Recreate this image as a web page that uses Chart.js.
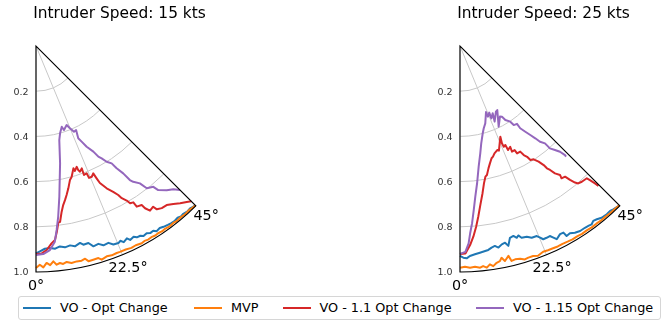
<!DOCTYPE html>
<html>
<head>
<meta charset="utf-8">
<script src="https://cdn.jsdelivr.net/npm/chart.js@4.4.1/dist/chart.umd.min.js"></script>
<style>
  html, body { margin: 0; padding: 0; background: #fff; }
  #wrap { position: relative; width: 672px; height: 322px; overflow: hidden; font-family: "DejaVu Sans", sans-serif; }
  #c { position: absolute; left: 0; top: 0; }
  #legend { position: absolute; left: 18px; top: 296px; width: 641px; height: 22px; border: 1px solid #d6d6d6; border-radius: 3px; background: #fff; }
  .lg-line { position: absolute; top: 10px; height: 2px; width: 28px; }
  .lg-text { position: absolute; top: 3px; font-size: 12.8px; line-height: 15px; color: #000; white-space: nowrap; }
</style>
</head>
<body>
<div id="wrap">
  <canvas id="c" width="672" height="322"></canvas>
  <div id="legend"></div>
</div>
<script>
// values: theta in degrees, r from 0 (apex) to 1 (outer arc)
const titles = ["Intruder Speed: 15 kts", "Intruder Speed: 25 kts"];
const seriesNames = ["VO - Opt Change", "MVP", "VO - 1.1 Opt Change", "VO - 1.15 Opt Change"];
const seriesColors = ["#1f77b4", "#ff7f0e", "#d62728", "#9467bd"];
const radialTicks = [0.2, 0.4, 0.6, 0.8, 1.0];
const thetaTicks = [0, 22.5, 45];

// 15 kts
const theta15Opt = [0,1.1,2.5,4.0,5.4,6.8,8.2,9.7,11.0,12.6,13.4,14.9,16.0,17.5,18.7,20.2,21.3,22.7,23.4,24.1,25.3,25.9,27.1,27.8,28.8,29.5,30.6,31.4,32.4,33.1,34.2,35.2,36.4,37.4,38.3,39.5,40.4,41.3,42.5,43.5,44.3,45];
const r15Opt = [0.918,0.909,0.898,0.896,0.901,0.893,0.900,0.895,0.903,0.893,0.904,0.902,0.922,0.918,0.931,0.928,0.943,0.945,0.939,0.951,0.941,0.954,0.948,0.957,0.958,0.966,0.962,0.970,0.968,0.978,0.974,0.979,0.983,0.986,0.988,0.985,0.990,0.988,0.992,0.990,0.995,0.997];

const theta15Mvp = [0,1.0,1.9,2.8,3.7,4.6,5.4,6.3,7.1,8.1,9.3,10.7,12.0,13.0,13.7,15.0,16.4,17.1,18.6,19.9,21.3,22.2,23.8,25.3,26.6,28.2,29.1,30.1,31.1,32.2,33.1,34.3,35.2,36.5,37.8,39.0,40.3,41.5,42.8,44.0,45];
const r15Mvp = [0.982,0.968,0.980,0.961,0.972,0.956,0.972,0.966,0.972,0.965,0.973,0.970,0.971,0.966,0.980,0.979,0.978,0.989,0.982,0.985,0.983,0.984,0.984,0.988,0.986,0.990,0.987,0.990,0.988,0.991,0.989,0.992,0.990,0.993,0.991,0.994,0.992,0.995,0.993,0.996,0.997];

const theta15Vo11 = [0,1.6,3.0,4.5,5.6,6.4,7.2,7.8,8.8,9.7,10.7,11.6,12.8,14.2,15.2,17.0,17.3,18.6,18.8,19.3,20.5,20.4,21.7,21.9,23.1,24.2,24.6,25.0,26.4,27.9,28.9,29.4,30.4,30.9,31.9,32.1,33.6,33.9,34.7,36.1,36.5,37.8,39.4,41.0,42.5,44.0,45];
const r15Vo11 = [0.920,0.918,0.904,0.876,0.862,0.827,0.788,0.785,0.742,0.714,0.693,0.673,0.646,0.612,0.601,0.566,0.579,0.564,0.580,0.589,0.578,0.609,0.606,0.629,0.629,0.618,0.644,0.669,0.703,0.730,0.753,0.773,0.793,0.811,0.815,0.839,0.845,0.865,0.886,0.880,0.899,0.908,0.911,0.926,0.944,0.960,0.972];

const theta15Vo115 = [0,2.0,3.9,5.5,6.4,7.4,8.8,11.6,13.9,15.4,17.7,18.4,21.2,22.4,23.9,25.5,24.6,25.5,26.7,28.5,29.4,30.3,31.4,32.8,33.4,34.4,35.0,35.6,37.1,37.9,39.8,40.3,42.2,43.8,45.0];
const r15Vo115 = [0.925,0.921,0.905,0.870,0.819,0.762,0.675,0.530,0.429,0.401,0.375,0.392,0.375,0.394,0.415,0.412,0.449,0.469,0.499,0.532,0.562,0.576,0.600,0.618,0.648,0.683,0.724,0.739,0.762,0.798,0.811,0.836,0.861,0.878,0.901];

// 25 kts
const theta25Opt = [0,0.9,1.8,2.7,4.1,5.5,7.0,7.9,8.9,9.9,10.8,11.9,12.9,13.6,14.6,15.7,16.5,17.1,17.8,19.3,20.5,22.0,22.7,23.3,24.3,25.3,26.0,26.6,28.0,29.0,29.3,30.4,31.6,33.0,34.5,35.5,36.4,37.3,38.3,39.5,41.1,42.3,43.2,44.7];
const r25Opt = [0.929,0.937,0.940,0.930,0.924,0.919,0.914,0.911,0.903,0.898,0.908,0.897,0.893,0.910,0.877,0.873,0.885,0.877,0.891,0.894,0.906,0.907,0.919,0.931,0.931,0.930,0.943,0.956,0.943,0.944,0.964,0.961,0.970,0.976,0.976,0.978,0.981,0.973,0.977,0.985,0.988,0.987,0.991,0.996];

const theta25Mvp = [0,1.3,2.6,3.9,5.2,6.0,6.9,7.8,8.6,9.6,10.5,11.1,11.8,13.0,13.5,14.5,15.8,16.9,17.9,19.2,20.4,22.0,23.3,24.7,26.0,27.4,28.8,30.2,31.6,33.0,34.5,36.0,37.5,39.0,40.5,42.0,43.5,45];
const r25Mvp = [0.981,0.977,0.982,0.979,0.985,0.979,0.988,0.975,0.985,0.973,0.968,0.955,0.972,0.953,0.978,0.975,0.978,0.987,0.984,0.984,0.990,0.982,0.984,0.985,0.987,0.986,0.988,0.990,0.989,0.991,0.990,0.992,0.991,0.993,0.992,0.994,0.995,0.997];

const theta25Vo11 = [0,1.5,2.9,4.0,5.1,6.1,7.3,8.7,9.9,11.0,11.8,13.1,14.3,15.7,16.6,17.8,18.8,19.8,20.4,24.0,23.3,23.5,24.6,24.8,26.5,26.2,27.7,28.0,29.7,30.3,31.2,31.7,33.0,34.2,35.1,35.4,36.0,36.7,37.8,37.5,38.8,39.4,40.1,40.7,41.9,43.8,44.1,44.5,44.7];
const r25Vo11 = [0.920,0.918,0.882,0.846,0.803,0.760,0.709,0.659,0.617,0.589,0.583,0.556,0.536,0.516,0.511,0.499,0.494,0.489,0.494,0.439,0.469,0.486,0.482,0.507,0.498,0.521,0.520,0.538,0.538,0.559,0.573,0.593,0.598,0.619,0.644,0.664,0.678,0.703,0.722,0.738,0.742,0.767,0.790,0.802,0.807,0.811,0.826,0.852,0.871];

const theta25Vo115 = [0,1.5,2.5,3.1,3.9,4.8,5.8,7.1,8.8,10.7,12.3,14.6,16.1,18.1,21.5,21.6,23.7,23.4,25.9,24.6,28.7,30.2,25.6,29.5,30.7,31.5,33.6,34.2,36.2,36.2,37.3,38.3,39.2,39.9,41.1,41.3,42.4,43.4,43.9,43.8];
const r25Vo115 = [0.920,0.911,0.874,0.830,0.786,0.728,0.670,0.612,0.540,0.483,0.441,0.399,0.379,0.360,0.314,0.336,0.322,0.349,0.331,0.368,0.331,0.328,0.396,0.359,0.364,0.384,0.402,0.423,0.427,0.451,0.477,0.502,0.527,0.552,0.572,0.603,0.623,0.644,0.670,0.678];

// layout: pixels per unit radius and the two apex positions
const U = 226;
const W = 672, H = 322;
const apexL = 36, apexR = 460, apexY = 46;

const deg = Math.PI / 180;
// theta = 0 points straight down, angles grow toward the right
const toXY = (th, r) => th.map((t, i) => ({ x: r[i] * Math.sin(t * deg), y: -r[i] * Math.cos(t * deg) }));

const panels = [
  { xAxis: "x",  title: titles[0], series: [[theta15Opt, r15Opt], [theta15Mvp, r15Mvp], [theta15Vo11, r15Vo11], [theta15Vo115, r15Vo115]] },
  { xAxis: "x2", title: titles[1], series: [[theta25Opt, r25Opt], [theta25Mvp, r25Mvp], [theta25Vo11, r25Vo11], [theta25Vo115, r25Vo115]] },
];

const datasets = [];
panels.forEach(p => {
  p.series.forEach((s, k) => {
    datasets.push({
      label: seriesNames[k],
      data: toXY(s[0], s[1]),
      xAxisID: p.xAxis,
      yAxisID: "y",
      showLine: true,
      borderColor: seriesColors[k],
      backgroundColor: seriesColors[k],
      borderWidth: 2,
      pointRadius: 0,
      tension: 0,
      borderJoinStyle: "round",
      order: 4 - k,   // later series on top, like matplotlib
    });
  });
});

const polarFrame = {
  id: "polarFrame",
  beforeDatasetsDraw(chart) {
    const ctx = chart.ctx;
    panels.forEach(p => {
      const xs = chart.scales[p.xAxis], ys = chart.scales.y;
      const ox = xs.getPixelForValue(0), oy = ys.getPixelForValue(0);
      const R = xs.getPixelForValue(1) - ox;
      ctx.save();
      ctx.strokeStyle = "#c8c8c8";
      ctx.lineWidth = 1;
      radialTicks.filter(v => v < 1).forEach(v => {
        ctx.beginPath();
        ctx.arc(ox, oy, v * R, Math.PI / 2 - 45 * deg, Math.PI / 2);
        ctx.stroke();
      });
      thetaTicks.forEach(t => {
        ctx.beginPath();
        ctx.moveTo(ox, oy);
        ctx.lineTo(ox + R * Math.sin(t * deg), oy + R * Math.cos(t * deg));
        ctx.stroke();
      });
      ctx.restore();
    });
  },
  afterDatasetsDraw(chart) {
    const ctx = chart.ctx;
    panels.forEach(p => {
      const xs = chart.scales[p.xAxis], ys = chart.scales.y;
      const ox = xs.getPixelForValue(0), oy = ys.getPixelForValue(0);
      const R = xs.getPixelForValue(1) - ox;
      ctx.save();
      // spines
      ctx.strokeStyle = "#000";
      ctx.lineWidth = 1.1;
      ctx.beginPath();
      ctx.moveTo(ox, oy);
      ctx.lineTo(ox, oy + R);
      ctx.arc(ox, oy, R, Math.PI / 2, Math.PI / 2 - 45 * deg, true);
      ctx.closePath();
      ctx.stroke();

      // radial labels
      ctx.fillStyle = "#333";
      ctx.font = '9.5px "DejaVu Sans"';
      ctx.textAlign = "right";
      ctx.textBaseline = "middle";
      radialTicks.forEach(v => ctx.fillText(v.toFixed(1), ox - 7.5, oy + v * R + 1));

      // angle labels
      ctx.fillStyle = "#000";
      ctx.font = '14.3px "DejaVu Sans"';
      ctx.textAlign = "center";
      thetaTicks.forEach(t => {
        const rr = 1.065 * R;
        ctx.fillText(t + "°", ox + rr * Math.sin(t * deg), oy + rr * Math.cos(t * deg));
      });

      // title
      ctx.font = '15.4px "DejaVu Sans"';
      ctx.textBaseline = "alphabetic";
      ctx.fillText(p.title, ox + 83.5, 18);
      ctx.restore();
    });
  }
};

new Chart(document.getElementById("c"), {
  type: "scatter",
  data: { datasets: datasets },
  options: {
    responsive: false,
    animation: false,
    devicePixelRatio: 1,
    layout: { padding: 0 },
    plugins: { legend: { display: false }, tooltip: { enabled: false } },
    scales: {
      x:  { type: "linear", display: false, min: -apexL / U, max: (W - apexL) / U },
      x2: { type: "linear", display: false, min: -apexR / U, max: (W - apexR) / U },
      y:  { type: "linear", display: false, min: -(H - apexY) / U, max: apexY / U },
    },
  },
  plugins: [polarFrame],
});

// legend
const legendX = [59, 230, 318.5, 512];
const legendNode = document.getElementById("legend");
seriesNames.forEach((name, k) => {
  const lx = legendX[k] - 18;
  legendNode.insertAdjacentHTML("beforeend",
    `<div class="lg-line" style="left:${lx - 37}px;background:${seriesColors[k]}"></div>` +
    `<div class="lg-text" style="left:${lx}px">${name}</div>`);
});
</script>
</body>
</html>
